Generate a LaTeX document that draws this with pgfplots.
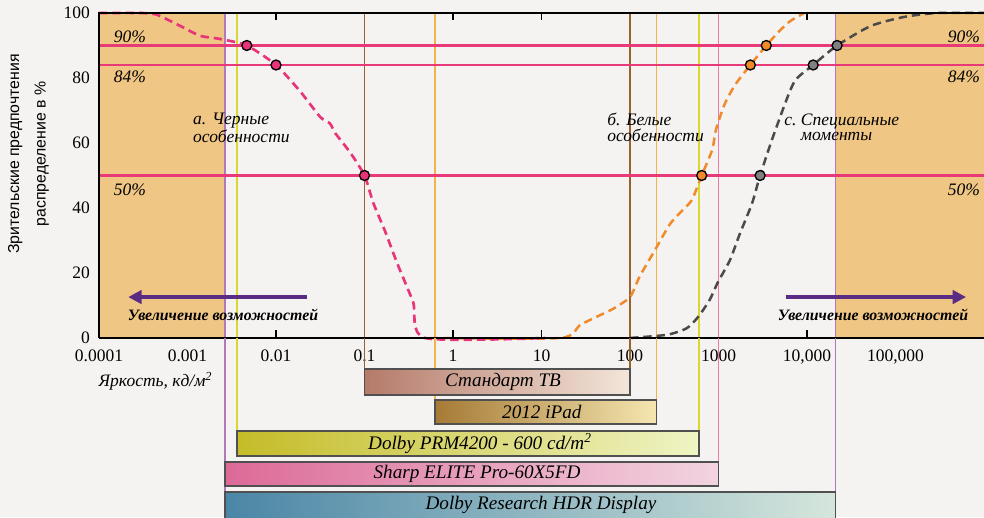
\documentclass[border=0pt]{standalone}
\usepackage{pgfplots}
\pgfplotsset{compat=1.18}
\usepackage{fontspec}
\setmainfont{Liberation Serif}
\newfontfamily\labelsans{Liberation Sans}
\usetikzlibrary{arrows.meta}
\definecolor{bgc}{HTML}{F5F3F1}
\definecolor{tanc}{HTML}{F0C685}
\definecolor{pinkline}{HTML}{E83A78}
\definecolor{pinkc}{HTML}{E8357A}
\definecolor{orangec}{HTML}{F08A2A}
\definecolor{greyc}{HTML}{4A4A4A}
\definecolor{purplev}{HTML}{B07AB8}
\definecolor{yellowv}{HTML}{D8D830}
\definecolor{brownv}{HTML}{9A6030}
\definecolor{orangev}{HTML}{F0B448}
\definecolor{pinkv}{HTML}{F07AAA}
\definecolor{arrowc}{HTML}{5B2C83}
\definecolor{bord}{HTML}{505050}
\begin{document}
\begin{tikzpicture}
\fill[bgc] (0,0) rectangle (590.4pt,310.2pt);
\path[use as bounding box] (0,0) rectangle (590.4pt,310.2pt);
% main axis
\begin{axis}[
  name=main, at={(59.4pt,107.4pt)}, anchor=south west,
  scale only axis, width=531pt, height=195pt,
  xmode=log, log basis x=10, xmin=1e-4, xmax=1e6, ymin=0, ymax=100,
  xtick={1e-4,1e-3,1e-2,1e-1,1,10,100,1000,10000,100000},
  xticklabels={0.0001,0.001,0.01,0.1,1,10,100,1000,{10,000},{100,000}},
  xminorticks=false,
  ytick={0,20,40,60,80,100},
  minor ytick={10,30,50,70,90},
  ytick pos=left, xtick pos=both,
  tick align=inside,
  major tick length=4.5pt, minor tick length=4.5pt,
  tick style={black, line width=0.9pt},
  axis line style={draw=none},
  ticklabel style={font=\fontsize{10.5}{12}\selectfont},
  xticklabel style={yshift=-3.5pt},
  yticklabel style={xshift=-2pt},
  /pgf/number format/assume math mode=true,
  clip=false,
]
% shaded regions
\addplot[fill=tanc, draw=none] coordinates {(1e-4,0) (0.00265,0) (0.00265,100) (1e-4,100)} --cycle;
\addplot[fill=tanc, draw=none] coordinates {(21000,0) (1e6,0) (1e6,100) (21000,100)} --cycle;
% vertical lines
\addplot[purplev, line width=1pt] coordinates {(0.00265,0) (0.00265,100)};
\addplot[yellowv, line width=1pt] coordinates {(0.00363,0) (0.00363,100)};
\addplot[brownv, line width=1pt] coordinates {(0.1,0) (0.1,100)};
\addplot[orangev, line width=1pt] coordinates {(0.63,0) (0.63,100)};
\addplot[brownv, line width=1pt] coordinates {(100,0) (100,100)};
\addplot[orangev, line width=1pt] coordinates {(200,0) (200,100)};
\addplot[yellowv, line width=1pt] coordinates {(600,0) (600,100)};
\addplot[pinkv, line width=1pt] coordinates {(1000,0) (1000,100)};
\addplot[purplev, line width=1pt] coordinates {(21000,0) (21000,100)};
% horizontal lines
\addplot[draw=pinkline, line width=1.4pt] coordinates {(1e-4,90) (1e6,90)};
\addplot[draw=pinkline, line width=1.4pt] coordinates {(1e-4,84) (1e6,84)};
\addplot[draw=pinkline, line width=1.4pt] coordinates {(1e-4,50) (1e6,50)};
% curves
\addplot[greyc, line width=1.5pt, dash pattern=on 5pt off 3pt, smooth, tension=0.4] coordinates {
 (100,0) (263,1) (437,3) (589,6.5) (794,11.7) (977,17) (1349,24) (1738,32) (2399,41.5) (2951,50)
 (4266,63) (7079,78.5) (11749,84) (21878,90) (52481,96) (125893,98.8) (295121,100) (1e6,100)};
\addplot[orangec, line width=1.5pt, dash pattern=on 5pt off 3pt, smooth, tension=0.4] coordinates {
 (0.55,0) (16.2,0) (27.2,4) (45.7,7) (64.6,9) (100,12.6) (129,19) (191,27) (282,35) (398,39.5)
 (501,42.5) (646,50) (851,58) (933,64) (1175,72) (1549,78) (2291,84) (3467,90) (4898,94.5)
 (6457,97.5) (9333,100)};
\addplot[pinkc, line width=1.6pt, dash pattern=on 5pt off 3pt, smooth, tension=0.4] coordinates {
 (0.0001,100) (0.000288,100) (0.000447,99.5) (0.000832,96) (0.00138,93) (0.00234,92) (0.00468,90)
 (0.01,84) (0.0186,76) (0.0316,68) (0.0407,66) (0.0468,63) (0.0692,57) (0.1,50) (0.126,41.5)
 (0.170,33) (0.234,23) (0.355,11) (0.479,0) (11,0)};
% markers
\addplot[only marks, mark=*, mark size=3pt, mark options={fill=pinkc, draw=black, line width=0.8pt}]
  coordinates {(0.00468,90) (0.01,84) (0.1,50)};
\addplot[only marks, mark=*, mark size=3pt, mark options={fill=orangec, draw=black, line width=0.8pt}]
  coordinates {(646,50) (2291,84) (3467,90)};
\addplot[only marks, mark=*, mark size=3pt, mark options={fill=gray, draw=black, line width=0.8pt}]
  coordinates {(2951,50) (11749,84) (21878,90)};
% axis lines
\draw[black, line width=1pt] (axis cs:1e-4,0) -- (axis cs:1e6,0);
\draw[black, line width=1pt] (axis cs:1e-4,0) -- (axis cs:1e-4,100) -- (axis cs:1e6,100);
% percentage labels
\node[font=\itshape\fontsize{10.5}{12}\selectfont] at (axis cs:0.000224,92.6) {90\%};
\node[font=\itshape\fontsize{10.5}{12}\selectfont] at (axis cs:0.000224,80.3) {84\%};
\node[font=\itshape\fontsize{10.5}{12}\selectfont] at (axis cs:0.000224,45.5) {50\%};
\node[font=\itshape\fontsize{10.5}{12}\selectfont] at (axis cs:594000,92.6) {90\%};
\node[font=\itshape\fontsize{10.5}{12}\selectfont] at (axis cs:594000,80.3) {84\%};
\node[font=\itshape\fontsize{10.5}{12}\selectfont] at (axis cs:594000,45.5) {50\%};
% annotations
\node[anchor=north west, inner sep=0pt, align=left, font=\itshape\fontsize{10.5}{9.5}\selectfont]
  at (axis cs:0.00115,69.2) {а. Черные\\особенности};
\node[anchor=north west, inner sep=0pt, align=left, font=\itshape\fontsize{10.5}{9.5}\selectfont]
  at (axis cs:55,69.2) {б. Белые\\особенности};
\node[anchor=north west, inner sep=0pt, align=left, font=\itshape\fontsize{10.5}{9.5}\selectfont]
  at (axis cs:5500,69.2) {с.~Специальные\\\hphantom{с.~}моменты};
% arrows
\draw[arrowc, line width=2.2pt, -{Triangle[length=8pt,width=8pt]}] (axis cs:0.0224,12.6) -- (axis cs:0.000214,12.6);
\draw[arrowc, line width=2.2pt, -{Triangle[length=8pt,width=8pt]}] (axis cs:5750,12.6) -- (axis cs:627000,12.6);
\node[font=\bfseries\itshape\fontsize{9.5}{10}\selectfont] at (axis cs:0.00252,7.1) {Увеличение возможностей};
\node[font=\bfseries\itshape\fontsize{9.5}{10}\selectfont] at (axis cs:55700,7.1) {Увеличение возможностей};
\end{axis}
% lower axis with display ranges
\begin{axis}[
  at={(59.4pt,0pt)}, anchor=south west,
  scale only axis, width=531pt, height=107.4pt,
  xmode=log, log basis x=10, xmin=1e-4, xmax=1e6, ymin=-517, ymax=-338,
  hide axis,
]
\addplot[purplev, line width=1pt] coordinates {(0.00265,-338) (0.00265,-492)};
\addplot[yellowv, line width=1pt] coordinates {(0.00363,-338) (0.00363,-431)};
\addplot[brownv, line width=1pt] coordinates {(0.1,-338) (0.1,-369)};
\addplot[orangev, line width=1pt] coordinates {(0.63,-338) (0.63,-400)};
\addplot[brownv, line width=1pt] coordinates {(100,-338) (100,-369)};
\addplot[orangev, line width=1pt] coordinates {(200,-338) (200,-400)};
\addplot[yellowv, line width=1pt] coordinates {(600,-338) (600,-431)};
\addplot[pinkv, line width=1pt] coordinates {(1000,-338) (1000,-462)};
\addplot[purplev, line width=1pt] coordinates {(21000,-338) (21000,-492)};
% bars
\addplot[draw=bord, line width=1pt, left color={rgb,255:red,181;green,122;blue,106}, right color={rgb,255:red,243;green,230;blue,218}]
  coordinates {(0.1,-395) (100,-395) (100,-369) (0.1,-369)} --cycle;
\addplot[draw=bord, line width=1pt, left color={rgb,255:red,165;green,122;blue,53}, right color={rgb,255:red,245;green,230;blue,176}]
  coordinates {(0.63,-424) (200,-424) (200,-400) (0.63,-400)} --cycle;
\addplot[draw=bord, line width=1pt, left color={rgb,255:red,196;green,188;blue,40}, right color={rgb,255:red,239;green,244;blue,196}]
  coordinates {(0.00363,-456) (600,-456) (600,-431) (0.00363,-431)} --cycle;
\addplot[draw=bord, line width=1pt, left color={rgb,255:red,220;green,106;blue,152}, right color={rgb,255:red,242;green,212;blue,224}]
  coordinates {(0.00265,-486) (1000,-486) (1000,-462) (0.00265,-462)} --cycle;
\addplot[draw=bord, line width=1pt, left color={rgb,255:red,74;green,134;blue,166}, right color={rgb,255:red,213;green,230;blue,220}]
  coordinates {(0.00265,-522) (21000,-522) (21000,-492) (0.00265,-492)} --cycle;
\node[font=\itshape\fontsize{11.5}{13}\selectfont] at (axis cs:3.67,-382) {Стандарт ТВ};
\node[font=\itshape\fontsize{11.5}{13}\selectfont] at (axis cs:10.1,-412) {2012 iPad};
\node[font=\itshape\fontsize{11.5}{13}\selectfont] at (axis cs:2.02,-443.5) {Dolby PRM4200 - 600 cd/m\textsuperscript{2}};
\node[font=\itshape\fontsize{11.5}{13}\selectfont] at (axis cs:1.87,-474) {Sharp ELITE Pro-60X5FD};
\node[font=\itshape\fontsize{11.5}{13}\selectfont] at (axis cs:9.87,-504.5) {Dolby Research HDR Display};
\node[anchor=base west, inner sep=0pt, font=\itshape\fontsize{10.5}{12}\selectfont] at (axis cs:0.0000985,-387) {Яркость, кд/м\textsuperscript{2}};
\end{axis}
\node[rotate=90, align=center, font=\labelsans\fontsize{9.5}{16}\selectfont] at (17.1pt,217.8pt)
  {Зрительские предпочтения\\распределение в \%};
\end{tikzpicture}
\end{document}
